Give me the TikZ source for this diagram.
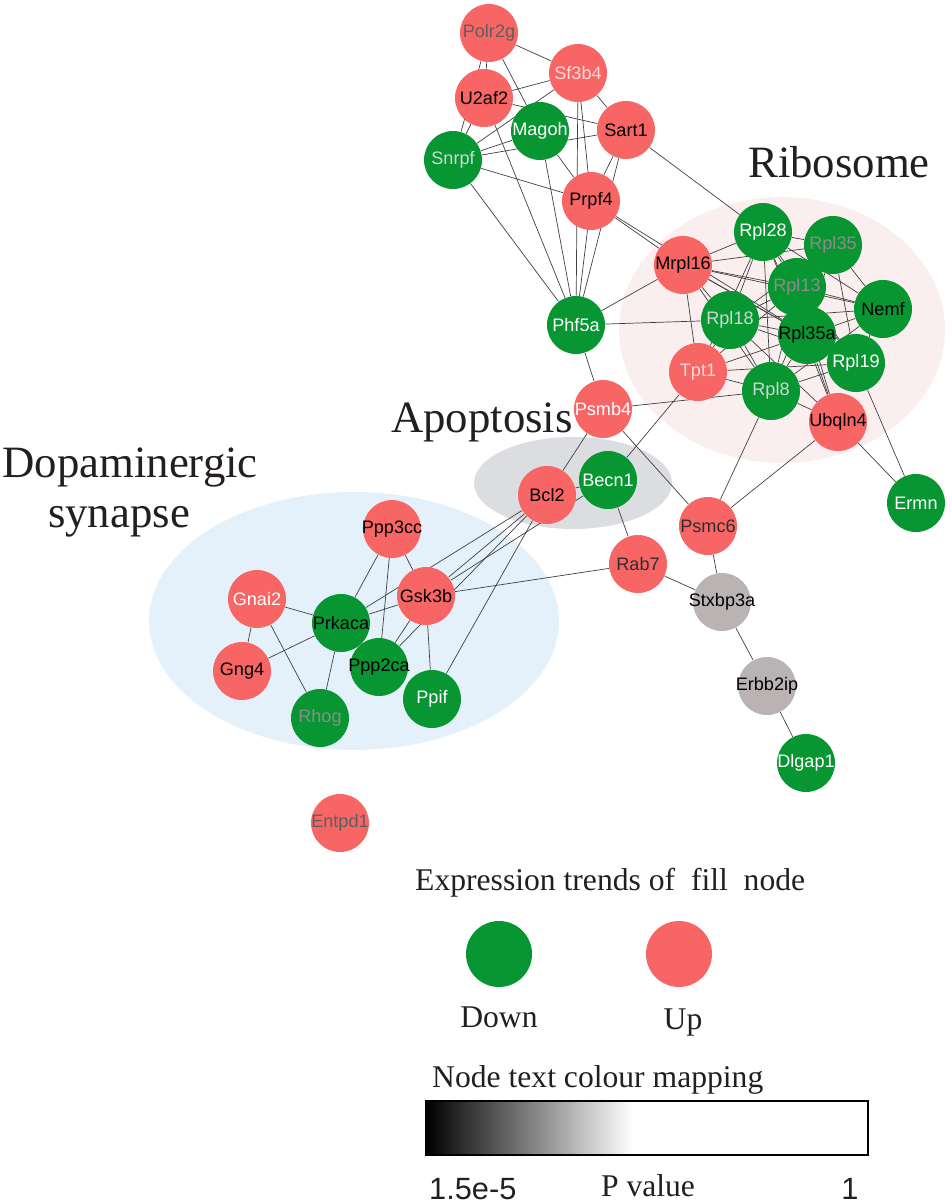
\documentclass[tikz,border=0pt]{standalone}
\usepackage{fontspec}
\setmainfont{Liberation Serif}
\newfontfamily\genefont{Liberation Sans}
\usetikzlibrary{backgrounds}
\definecolor{downgreen}{HTML}{079632}
\definecolor{upred}{HTML}{F86565}
\definecolor{midgrey}{HTML}{B9B3B3}
\definecolor{ribopink}{HTML}{FBEEEE}
\definecolor{apopgrey}{HTML}{DCDDE1}
\definecolor{dopablue}{HTML}{E4F1FA}
\definecolor{txtgrey}{HTML}{5E5E5E}
\definecolor{txtmid}{HTML}{8C8C8C}
\definecolor{txtlight}{HTML}{D2D6D2}
\definecolor{txtpale}{HTML}{F6DADA}
\definecolor{txtdark}{HTML}{2E2E2E}
\definecolor{headtext}{HTML}{231F20}
\begin{document}
\begin{tikzpicture}[x=0.02cm, y=-0.02cm,
  gene/.style={circle, inner sep=0pt, minimum size=1.16cm,
    font=\genefont\fontsize{10.3}{12}\selectfont,
    execute at begin node={\hbox to 0pt\bgroup\hss}, execute at end node={\hss\egroup}},
  geneup/.style={gene, fill=upred},
  genedown/.style={gene, fill=downgreen},
  genegrey/.style={gene, fill=midgrey},
  link/.style={draw=black!75, line width=0.4pt},
  headline/.style={font=\fontsize{25.5}{28}\selectfont, text=headtext, anchor=base},
  legendtext/.style={font=\fontsize{18}{20}\selectfont, text=headtext, anchor=base}]
  \useasboundingbox (0,0) rectangle (952,1204);

  \path (489,33)  node[geneup, text=txtgrey]     (polr2g)  {Polr2g}
        (578,73)  node[geneup, text=txtpale]     (sf3b4)   {Sf3b4}
        (484,98)  node[geneup, text=black]       (u2af2)   {U2af2}
        (540,131) node[genedown, text=white]     (magoh)   {Magoh}
        (626,130) node[geneup, text=black]       (sart1)   {Sart1}
        (453,160) node[genedown, text=txtlight]  (snrpf)   {Snrpf}
        (591,201) node[geneup, text=black]       (prpf4)   {Prpf4}
        (683,265) node[geneup, text=black]       (mrpl16)  {Mrpl16}
        (576,325) node[genedown, text=white]     (phf5a)   {Phf5a};

  \path (763,232) node[genedown, text=white]     (rpl28)   {Rpl28}
        (833,245) node[genedown, text=txtmid]    (rpl35)   {Rpl35}
        (797,287) node[genedown, text=txtmid]    (rpl13)   {Rpl13}
        (883,309) node[genedown, text=black]     (nemf)    {Nemf}
        (730,320) node[genedown, text=txtlight]  (rpl18)   {Rpl18}
        (807,335) node[genedown, text=black]     (rpl35a)  {Rpl35a}
        (856,363) node[genedown, text=white]     (rpl19)   {Rpl19}
        (698,372) node[geneup, text=txtpale]     (tpt1)    {Tpt1}
        (771,391) node[genedown, text=txtlight]  (rpl8)    {Rpl8}
        (838,422) node[geneup, text=black]       (ubqln4)  {Ubqln4}
        (916,503) node[genedown, text=white]     (ermn)    {Ermn};

  \path (603,409) node[geneup, text=white]       (psmb4)   {Psmb4}
        (608,480) node[genedown, text=white]     (becn1)   {Becn1}
        (547,495) node[geneup, text=black]       (bcl2)    {Bcl2}
        (708,526) node[geneup, text=txtdark]     (psmc6)   {Psmc6}
        (638,564) node[geneup, text=txtdark]     (rab7)    {Rab7}
        (722,602) node[genegrey, text=black]     (stxbp3a) {Stxbp3a}
        (767,686) node[genegrey, text=black]     (erbb2ip) {Erbb2ip}
        (806,763) node[genedown, text=white]     (dlgap1)  {Dlgap1};

  \path (392,529) node[geneup, text=black]       (ppp3cc)  {Ppp3cc}
        (257,599) node[geneup, text=white]       (gnai2)   {Gnai2}
        (426,596) node[geneup, text=black]       (gsk3b)   {Gsk3b}
        (341,623) node[genedown, text=black]     (prkaca)  {Prkaca}
        (242,671) node[geneup, text=black]       (gng4)    {Gng4}
        (379,667) node[genedown, text=black]     (ppp2ca)  {Ppp2ca}
        (432,699) node[genedown, text=white]     (ppif)    {Ppif}
        (320,718) node[genedown, text=txtmid]    (rhog)    {Rhog}
        (340,823) node[geneup, text=txtgrey]     (entpd1)  {Entpd1};

  \begin{scope}[on background layer]
    \fill[ribopink] (782,330) ellipse [x radius=3.26cm, y radius=2.66cm];
    \fill[apopgrey] (573,483) ellipse [x radius=1.98cm, y radius=0.92cm];
    \fill[dopablue] (354,621) ellipse [x radius=4.1cm, y radius=2.58cm];

    \path[link]
      (polr2g) edge (sf3b4)  (polr2g) edge (u2af2)  (polr2g) edge (magoh)  (polr2g) edge (snrpf)
      (u2af2) edge (sf3b4)   (u2af2) edge (snrpf)   (u2af2) edge (sart1)   (u2af2) edge (phf5a)
      (sf3b4) edge (sart1)   (sf3b4) edge (prpf4)   (sf3b4) edge (phf5a)   (sf3b4) edge (snrpf)
      (magoh) edge (snrpf)   (magoh) edge (prpf4)   (magoh) edge (phf5a)
      (snrpf) edge (sart1)   (snrpf) edge (prpf4)   (snrpf) edge (phf5a)
      (sart1) edge (prpf4)   (sart1) edge (phf5a)   (sart1) edge (rpl28)
      (prpf4) edge (phf5a)   (prpf4) edge (mrpl16)  (prpf4) edge (rpl35a)
      (mrpl16) edge (phf5a)  (phf5a) edge (rpl18)   (phf5a) edge (psmb4);

    \path[link]
      (mrpl16) edge (rpl28)  (mrpl16) edge (rpl35)  (mrpl16) edge (rpl13)  (mrpl16) edge (nemf)
      (mrpl16) edge (rpl18)  (mrpl16) edge (rpl35a) (mrpl16) edge (rpl19)  (mrpl16) edge (rpl8)
      (mrpl16) edge (tpt1)
      (rpl28) edge (rpl35)   (rpl28) edge (rpl13)   (rpl28) edge (nemf)    (rpl28) edge (rpl18)
      (rpl28) edge (rpl35a)  (rpl28) edge (rpl19)   (rpl28) edge (rpl8)    (rpl28) edge (tpt1)
      (rpl28) edge (ubqln4)
      (rpl35) edge (rpl13)   (rpl35) edge (nemf)    (rpl35) edge (rpl18)   (rpl35) edge (rpl35a)
      (rpl35) edge (rpl19)   (rpl35) edge (rpl8)
      (rpl13) edge (nemf)    (rpl13) edge (rpl18)   (rpl13) edge (rpl35a)  (rpl13) edge (rpl19)
      (rpl13) edge (rpl8)    (rpl13) edge (tpt1)    (rpl13) edge (ubqln4)
      (nemf) edge (rpl18)    (nemf) edge (rpl35a)   (nemf) edge (rpl19)    (nemf) edge (rpl8)
      (rpl18) edge (rpl35a)  (rpl18) edge (rpl19)   (rpl18) edge (rpl8)    (rpl18) edge (tpt1)
      (rpl18) edge (ubqln4)
      (rpl35a) edge (rpl19)  (rpl35a) edge (rpl8)   (rpl35a) edge (tpt1)   (rpl35a) edge (ubqln4)
      (rpl19) edge (rpl8)    (rpl19) edge (tpt1)    (rpl19) edge (ermn)
      (rpl8) edge (tpt1)     (rpl8) edge (ubqln4)   (rpl8) edge (psmb4)    (rpl8) edge (psmc6)
      (ubqln4) edge (psmc6)  (ubqln4) edge (ermn);

    \path[link]
      (tpt1) edge (becn1)    (psmb4) edge (bcl2)    (psmb4) edge (psmc6)
      (bcl2) edge (becn1)    (bcl2) edge (gsk3b)    (bcl2) edge (prkaca)   (bcl2) edge (ppp2ca)
      (bcl2) edge (ppif)     (becn1) edge (gsk3b)   (becn1) edge (rab7)
      (rab7) edge (gsk3b)    (rab7) edge (stxbp3a)  (psmc6) edge (stxbp3a)
      (stxbp3a) edge (erbb2ip) (erbb2ip) edge (dlgap1)
      (ppp3cc) edge (prkaca) (ppp3cc) edge (ppp2ca) (ppp3cc) edge (gsk3b)
      (gnai2) edge (prkaca)  (gnai2) edge (gng4)    (gnai2) edge (rhog)
      (gng4) edge (prkaca)   (prkaca) edge (rhog)   (prkaca) edge (gsk3b)
      (gsk3b) edge (ppp2ca)  (gsk3b) edge (ppif);
  \end{scope}

  \node[headline] (ribosome) at (839,177) {Ribosome};
  \node[headline] (apoptosis) at (482,432) {Apoptosis};
  \node[headline] (dopamine) at (130,477) {Dopaminergic};
  \node[headline] (synapse) at (119,527) {synapse};

  \node[legendtext, anchor=base west] (trendtitle) at (409,890) {Expression trends of~ fill~ node};
  \node[geneup, minimum size=1.32cm] (upkey) at (679,954) {};
  \node[genedown, minimum size=1.32cm] (downkey) at (499,954) {};
  \node[legendtext] (downlabel) at (499,1027) {Down};
  \node[legendtext] (uplabel) at (683,1029) {Up};
  \node[legendtext, anchor=base west] (maptitle) at (426,1087) {Node text colour mapping};
  \shade[left color=black, right color=white] (426,1101) rectangle (633,1155);
  \draw[line width=0.8pt] (426,1101) rectangle (868,1155);
  \node[legendtext, font=\genefont\fontsize{17.5}{20}\selectfont, anchor=base west] (pmin) at (423,1199) {1.5e-5};
  \node[legendtext] (pname) at (648,1196) {P value};
  \node[legendtext, font=\genefont\fontsize{17.5}{20}\selectfont] (pmax) at (850,1199) {1};
\end{tikzpicture}
\end{document}
